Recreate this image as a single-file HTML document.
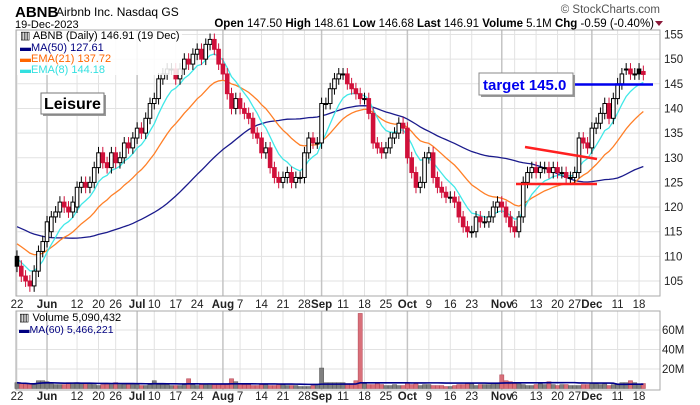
<!DOCTYPE html>
<html><head><meta charset="utf-8"><style>
body{margin:0;background:#fff;}
svg{display:block;font-family:"Liberation Sans",sans-serif;}
</style></head><body>
<svg id="c" width="700" height="405" viewBox="0 0 700 405">
<text x="15" y="17" font-size="15" font-weight="bold">ABNB</text>
<text x="56" y="16" font-size="12">Airbnb Inc. Nasdaq GS</text>
<text x="15" y="28" font-size="11">19-Dec-2023</text>
<text x="660" y="13" font-size="11.5" fill="#555" text-anchor="end">© StockCharts.com</text>
<text x="654" y="27" font-size="11.5" text-anchor="end"><tspan font-weight="bold">Open</tspan> 147.50 <tspan font-weight="bold">High</tspan> 148.61 <tspan font-weight="bold">Low</tspan> 146.68 <tspan font-weight="bold">Last</tspan> 146.91 <tspan font-weight="bold">Volume</tspan> 5.1M <tspan font-weight="bold">Chg</tspan> -0.59 (-0.40%)</text>
<path d="M655 21 L663 21 L659 26 Z" fill="#8b1a3a"/>
<g id="grid"></g>
<rect x="16" y="30" width="644" height="266" fill="none" stroke="#aaa"/>
<rect x="16" y="311" width="644" height="79" fill="none" stroke="#aaa"/>
<g id="vol"></g>
<g id="lines"></g>
<g id="candles"></g>
<g id="axes"></g>
<g font-size="11">
<rect x="17" y="31" width="165" height="44" fill="#fff" opacity="0.85"/>
<text x="20" y="39">▥ ABNB (Daily) 146.91 (19 Dec)</text>
<text x="20" y="51" fill="#000080">▬MA(50) 127.61</text>
<text x="20" y="62" fill="#ff6600">▬EMA(21) 137.72</text>
<text x="20" y="73" fill="#33e0e0">▬EMA(8) 144.18</text>
</g>
<g>
<rect x="43" y="95" width="63" height="21" fill="#999"/>
<rect x="41" y="93" width="63" height="21" fill="#fff" stroke="#777"/>
<text x="44" y="109" font-size="16" font-weight="bold">Leisure</text>
</g>
<g font-size="11">
<text x="19" y="321">▥ Volume 5,090,432</text>
<text x="19" y="333" fill="#000080" font-size="10.5">▬MA(60) 5,466,221</text>
</g>
<g>
<line x1="525" y1="147" x2="597" y2="159" stroke="#ff2020" stroke-width="2.5"/>
<line x1="516" y1="184" x2="597" y2="184" stroke="#ff2020" stroke-width="2.5"/>
</g>
<g>
<line x1="573" y1="84.5" x2="653" y2="84.5" stroke="#0000ee" stroke-width="2.5"/>
<rect x="481" y="75" width="94" height="22" fill="#999"/>
<rect x="479" y="73" width="94" height="22" fill="#fff" stroke="#888"/>
<text x="483" y="90" font-size="15" font-weight="bold" fill="#0000ee">target 145.0</text>
</g>
</svg>
<script>
const closes=[108,106,105,104,107,111,113,117,118,119,
121,120,119,121,124,125,124,125,128,131,
129,128,131,129,130,133,132,134,136,135,
138,141,142,146,147,148,148,146,148,150,
149,151,152,150,153,154,152,149,147,143,
140,142,140,139,138,135,134,131,132,128,
126,125,126,127,125,126,126,131,134,133,
133,141,141,144,146,147,147,145,144,143,
142,142,139,133,132,131,132,134,135,137,
136,130,127,124,125,130,131,126,124,123,
122,122,121,118,116,115,115,118,117,117,
118,120,121,120,118,116,115,118,125,127,
128,127,128,128,127,128,127,127,126,126,
127,134,133,132,136,137,139,141,138,142,
145,147,148,147,147,147,146.9];
const opens=[110,108,106,105,104,107,111,113,115,118,
119,121,120,119,120,124,125,124,125,128,
131,129,128,131,129,130,133,132,134,136,
135,138,141,142,146,147,148,148,146,148,
150,149,151,152,150,153,154,152,149,147,
143,140,142,140,139,138,135,134,131,132,
128,126,125,126,127,125,126,126,131,134,
133,133,141,141,144,146,147,147,145,144,
143,142,142,139,133,132,131,132,134,135,
137,136,130,127,124,125,130,131,126,124,
123,122,122,121,118,116,115,115,118,117,
117,118,120,121,120,118,116,115,118,125,
127,128,127,128,128,127,128,127,127,126,
126,127,134,133,132,136,137,139,141,138,
142,145,148,148,147,148,147.5];
const volumes=[6,5,5,4,4,8,8,7,6,4,
4,4,6,6,6,5,5,5,4,3,
4,5,4,6,4,5,4,4,4,3,
3,4,8,4,4,4,3,3,3,4,
10,4,3,4,4,5,4,4,4,4,
10,7,5,4,4,3,3,4,4,3,
3,4,4,3,3,3,2,2,2,3,
3,21,6,6,6,6,6,5,5,8,
77,5,4,4,6,4,3,3,4,3,
3,6,4,5,3,4,4,3,3,3,
2,2,3,4,4,5,5,3,4,4,
4,5,5,14,8,7,5,6,4,3,
3,4,5,4,7,4,3,4,4,3,
3,3,4,4,5,5,4,5,3,4,
5,6,6,8,6,4,5.1];
const priorCloses=[125,124,126,123,122,124,125,123,121,122,120,121,122,123,121,119,120,118,117,119,118,116,115,116,117,118,116,115,114,116,117,118,119,117,115,110,108,107,106,105,106,107,108,109,108,110,109,108,110];
const priceTicks=[105,110,115,120,125,130,135,140,145,150,155];
const volTicks=[20,40,60];
const dateLabels=["22","Jun","12","20","26","Jul","10","17","24","Aug","7","14","21","28","Sep","11","18","25","Oct","9","16","23","Nov","6","13","20","27","Dec","11","18"];
const dateIdx=[0,7,14,19,23,28,32,37,42,48,52,57,62,67,71,76,81,86,91,96,101,106,113,116,121,126,130,134,140,145];
const monthLabels=["Jun","Jul","Aug","Sep","Oct","Nov","Dec"];
const ema21Seed=113, ema8Seed=110;

const NS="http://www.w3.org/2000/svg";
const X=i=>17+i*4.29;
const Y=p=>281-(p-105)*4.93;
const VY=v=>388.5-v*0.975;
function mk(tag,attrs,parent){const e=document.createElementNS(NS,tag);for(const k in attrs)e.setAttribute(k,attrs[k]);parent.appendChild(e);return e;}
const grid=document.getElementById('grid'),axes=document.getElementById('axes');
priceTicks.forEach(p=>{
  const l=mk('line',{x1:16,x2:660,y1:Y(p),y2:Y(p),stroke:'#e2e2e2'},grid);
  
  
  const t=mk('text',{x:664,y:Y(p)+4,'font-size':11.5,fill:'#222'},axes);t.textContent=p;
  
  
});
volTicks.forEach(v=>{
  const l=mk('line',{x1:16,x2:660,y1:VY(v),y2:VY(v),stroke:'#e2e2e2'},grid);
  
  
  const t=mk('text',{x:662,y:VY(v)+4,'font-size':11.5,fill:'#222'},axes);t.textContent=v+'M';
  
  
});
dateLabels.forEach((lab,k)=>{
  const x=X(dateIdx[k]);const isM=monthLabels.includes(lab);
  [[30,296],[311,390]].forEach(r=>{
    const l=mk('line',{x1:x,x2:x,y1:r[0],y2:r[1],stroke:isM?'#c4c4c4':'#e2e2e2','stroke-width':isM?1.5:1},grid);
    
    
  });
  [308,400].forEach(y=>{
    const t=mk('text',{x:x,y:y,'font-size':11.5,'text-anchor':'middle','font-weight':isM?'bold':'normal',fill:'#222'},axes);
    t.textContent=lab;
    
    
  });
});
const vol=document.getElementById('vol');
volumes.forEach((v,i)=>{
  const down=i>0&&closes[i]<closes[i-1];
  const r=mk('rect',{x:X(i)-2.1,y:VY(v),width:4.2,height:388.5-VY(v),fill:down?'#d9707a':'#808080',stroke:down?'#b04050':'#555','stroke-width':0.5},vol);
  
  
});
const lines=document.getElementById('lines');
function poly(vals,yf,color,name,w){
  const p=mk('polyline',{points:vals.map((v,i)=>X(i)+','+yf(v)).join(' '),fill:'none',stroke:color,'stroke-width':w||1.3},lines);
  
  
}
const all=priorCloses.concat(closes);
const ma50=closes.map((c,i)=>{let s=0;for(let k=i;k<i+50;k++)s+=all[k];return s/50;});
function ema(n,seed){let e=seed;const a=2/(n+1);return closes.map(c=>(e=e+a*(c-e)));}
const vma=volumes.map((v,i)=>{const st=Math.max(0,i-59);let s=0;for(let k=st;k<=i;k++)s+=volumes[k];return s/(i-st+1);});
poly(ma50,Y,'#1a1a8c','ma50-line');
poly(ema(21,ema21Seed),Y,'#ff7f27','ema21-line');
poly(ema(8,ema8Seed),Y,'#40e8e8','ema8-line');
poly(vma,VY,'#00008b','volume-ma60-line',1.6);
const cg=document.getElementById('candles');
closes.forEach((c,i)=>{
  const o=opens[i],x=X(i);const up=c>=o;
  const down=i>0&&c<closes[i-1];
  const col=down?'#d0103a':'#000';
  const hi=Math.max(o,c)+1.2,lo=Math.min(o,c)-1.2;
  const g=mk('g',{},cg);
  
  
  mk('line',{x1:x,x2:x,y1:Y(hi),y2:Y(lo),stroke:col},g);
  const top=Y(Math.max(o,c)),h=Math.max(1,Math.abs(Y(o)-Y(c)));
  mk('rect',{x:x-1.8,y:top,width:3.6,height:h,fill:up?'#fff':col,stroke:col,'stroke-width':1},g);
});
</script>
</body></html>
